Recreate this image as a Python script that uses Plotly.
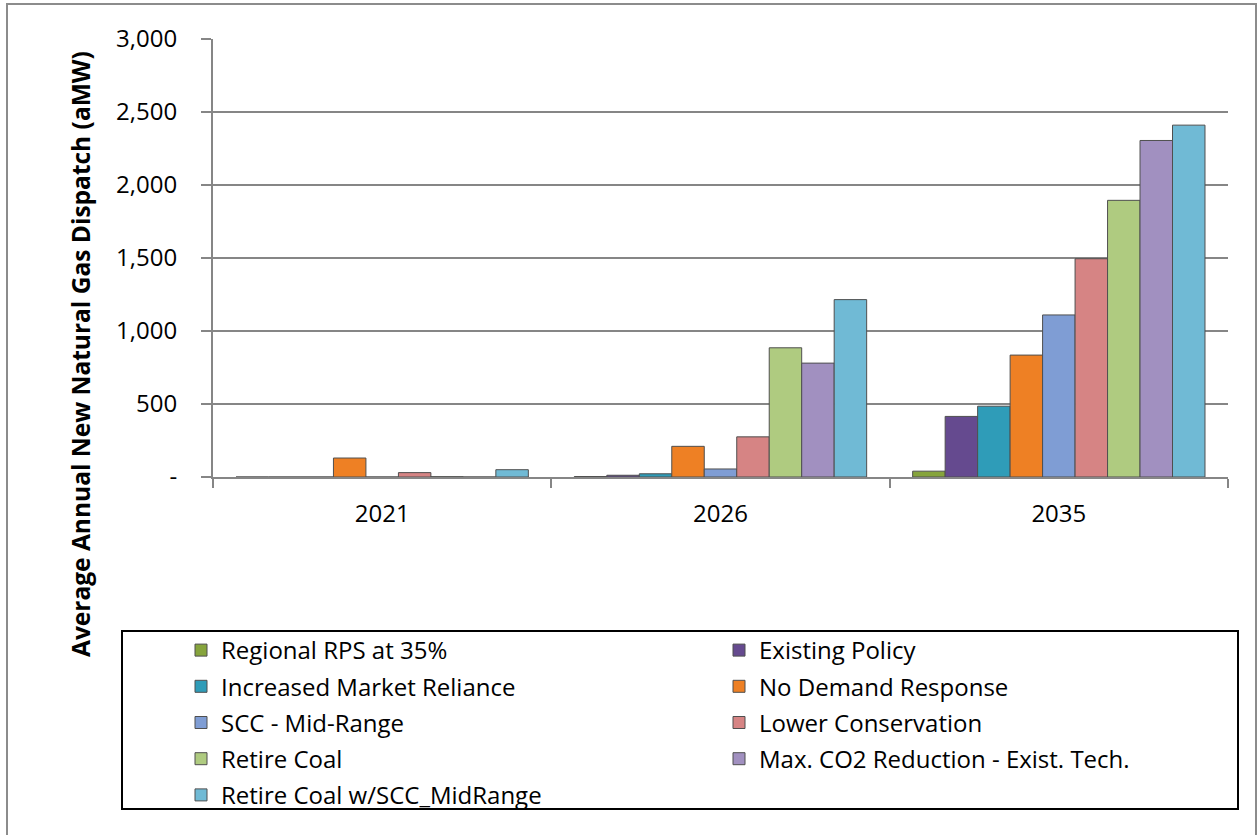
import plotly.graph_objects as go

# Scenario results: average annual new natural gas dispatch (aMW)
years = ["2021", "2026", "2035"]

scenarios = [
    "Regional RPS at 35%",
    "Existing Policy",
    "Increased Market Reliance",
    "No Demand Response",
    "SCC - Mid-Range",
    "Lower Conservation",
    "Retire Coal",
    "Max. CO2 Reduction - Exist. Tech.",
    "Retire Coal w/SCC_MidRange",
]

regional_rps = [0, 3, 40]
existing_policy = [0, 12, 415]
increased_market = [0, 22, 485]
no_demand_response = [130, 210, 835]
scc_mid_range = [0, 55, 1110]
lower_conservation = [30, 275, 1495]
retire_coal = [2, 885, 1895]
max_co2_reduction = [0, 780, 2305]
retire_coal_scc = [50, 1215, 2410]

series_values = [
    regional_rps,
    existing_policy,
    increased_market,
    no_demand_response,
    scc_mid_range,
    lower_conservation,
    retire_coal,
    max_co2_reduction,
    retire_coal_scc,
]

colors = [
    "#86A43C",
    "#654A8F",
    "#2F9CB8",
    "#EE8024",
    "#7F9DD4",
    "#D68484",
    "#AFCB80",
    "#A190C0",
    "#70BAD5",
]

y_ticks = [0, 500, 1000, 1500, 2000, 2500, 3000]
y_tick_text = ["-", "500", "1,000", "1,500", "2,000", "2,500", "3,000"]

FONT = "Open Sans"
W, H = 1257, 835
L, R, T, B = 213, 1228, 39, 477   # plot area edges in pixels


def px_x(px):
    return (px - L) / (R - L)


def px_y(py):
    return (B - py) / (B - T)


fig = go.Figure()
for i, (name, vals, col) in enumerate(zip(scenarios, series_values, colors)):
    fig.add_trace(go.Bar(
        name=name,
        x=years,
        y=vals,
        marker=dict(color=col, line=dict(color="#4F4F4F", width=1)),
        legend="legend" if i % 2 == 0 else "legend2",
        legendgroup=name,
    ))

legend_common = dict(
    orientation="v",
    bgcolor="rgba(0,0,0,0)",
    borderwidth=0,
    font=dict(family=FONT, size=24, color="#000000"),
    tracegroupgap=2,
    itemclick=False,
    itemdoubleclick=False,
    xanchor="left",
    yanchor="top",
)

fig.update_layout(
    width=W,
    height=H,
    margin=dict(l=L, r=W - R, t=T, b=H - B, autoexpand=False),
    paper_bgcolor="white",
    plot_bgcolor="white",
    barmode="group",
    bargap=0.136,
    bargroupgap=0,
    font=dict(family=FONT, size=24, color="#000000"),
    showlegend=True,
    legend=dict(x=px_x(181), y=px_y(628), **legend_common),
    legend2=dict(x=px_x(719), y=px_y(628), **legend_common),
    xaxis=dict(
        type="category",
        showline=True,
        linecolor="#868686",
        linewidth=2,
        ticks="outside",
        tickson="boundaries",
        ticklen=9,
        tickwidth=2,
        tickcolor="#868686",
        showgrid=False,
        tickfont=dict(family=FONT, size=24),
        ticklabelstandoff=14,
    ),
    yaxis=dict(
        range=[0, 3000],
        tickvals=y_ticks,
        ticktext=y_tick_text,
        showline=True,
        linecolor="#868686",
        linewidth=2,
        ticks="outside",
        ticklen=10,
        tickwidth=2,
        tickcolor="#868686",
        showgrid=True,
        gridcolor="#868686",
        gridwidth=2,
        zeroline=False,
        tickfont=dict(family=FONT, size=24),
        ticklabelstandoff=19,
    ),
)

# Vertical axis title
fig.add_annotation(
    text="<b>Average Annual New Natural Gas Dispatch (aMW)</b>",
    xref="paper", yref="paper",
    x=px_x(80), y=px_y(354),
    xanchor="center", yanchor="middle",
    textangle=-90,
    showarrow=False,
    font=dict(family=FONT, size=24.5, color="#000000"),
)

# Legend frame
fig.add_shape(
    type="rect", xref="paper", yref="paper",
    x0=px_x(122), x1=px_x(1238), y0=px_y(631), y1=px_y(809),
    line=dict(color="#000000", width=2), fillcolor="rgba(0,0,0,0)",
    layer="above",
)

# Outer chart border
fig.add_shape(
    type="rect", xref="paper", yref="paper",
    x0=px_x(7), x1=px_x(1256), y0=px_y(4), y1=px_y(845),
    line=dict(color="#8C8C8C", width=2), fillcolor="rgba(0,0,0,0)",
    layer="above",
)

fig.write_html("out.html")
